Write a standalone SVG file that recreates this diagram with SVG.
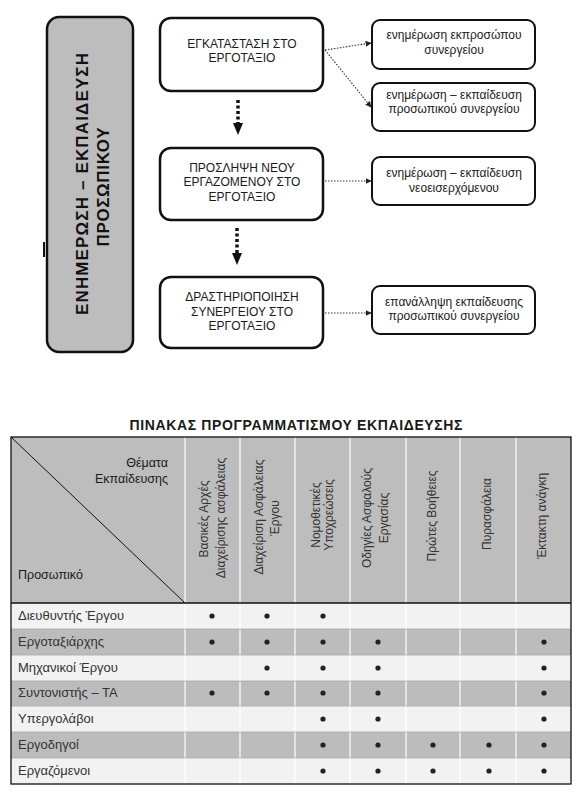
<svg xmlns="http://www.w3.org/2000/svg" width="583" height="796" viewBox="0 0 583 796">
<style>
.bg{fill:#ffffff}
.main{fill:#ffffff;stroke:#111;stroke-width:2.5}
.side{fill:#ffffff;stroke:#111;stroke-width:2}
.big{fill:#bdbdbd;stroke:#111;stroke-width:2.5}
.t{font-family:"Liberation Sans",Arial,sans-serif;fill:#1a1a1a}
.cap{font-size:12px;text-anchor:middle}
.sm{font-size:12px;text-anchor:middle}
.bold{font-weight:bold}
.vt{font-size:17px;font-weight:bold;text-anchor:middle;fill:#111}
.hd{font-size:12px;fill:#333;text-anchor:middle}
.row{font-size:13px;fill:#333}
.thin{fill:none;stroke:#333;stroke-width:1.1;stroke-dasharray:1.5 1.5}
.thick{fill:none;stroke:#111;stroke-width:3.5;stroke-dasharray:3 2.5}
.dot{fill:#222}
</style>
<defs>
<marker id="ah" viewBox="0 0 10 10" refX="9" refY="5" markerWidth="6" markerHeight="6" markerUnits="userSpaceOnUse" orient="auto"><path d="M0,0 L10,5 L0,10 z" fill="#222"/></marker>
</defs>
<rect class="bg" x="0" y="0" width="583" height="796"/>

<g id="node-main-title">
<rect class="big" x="47" y="17" width="86" height="335" rx="12"/>
<text class="t vt" transform="translate(88,184) rotate(-90)" textLength="262" lengthAdjust="spacing">ΕΝΗΜΕΡΩΣΗ – ΕΚΠΑΙΔΕΥΣΗ</text>
<text class="t vt" transform="translate(109,187) rotate(-90)" textLength="119" lengthAdjust="spacing">ΠΡΟΣΩΠΙΚΟΥ</text>
</g>
<g id="mark"><line x1="44" y1="242" x2="44" y2="257" stroke="#111" stroke-width="2"/></g>

<g id="node-install">
<rect class="main" x="160" y="18" width="163" height="73" rx="11"/>
<text class="t cap" x="242" y="48">ΕΓΚΑΤΑΣΤΑΣΗ ΣΤΟ</text>
<text class="t cap" x="242" y="62">ΕΡΓΟΤΑΞΙΟ</text>
</g>
<g id="node-hire">
<rect class="main" x="160" y="148" width="163" height="72" rx="11"/>
<text class="t cap" x="242" y="172">ΠΡΟΣΛΗΨΗ ΝΕΟΥ</text>
<text class="t cap" x="242" y="186">ΕΡΓΑΖΟΜΕΝΟΥ ΣΤΟ</text>
<text class="t cap" x="242" y="201">ΕΡΓΟΤΑΞΙΟ</text>
</g>
<g id="node-activate">
<rect class="main" x="160" y="277" width="163" height="71" rx="11"/>
<text class="t cap" x="242" y="301">ΔΡΑΣΤΗΡΙΟΠΟΙΗΣΗ</text>
<text class="t cap" x="242" y="316">ΣΥΝΕΡΓΕΙΟΥ ΣΤΟ</text>
<text class="t cap" x="242" y="330">ΕΡΓΟΤΑΞΙΟ</text>
</g>

<g id="node-a">
<rect class="side" x="372" y="20" width="163" height="49" rx="8"/>
<text class="t sm" x="454" y="39">ενημέρωση εκπροσώπου</text>
<text class="t sm" x="454" y="54">συνεργείου</text>
</g>
<g id="node-b">
<rect class="side" x="372" y="83" width="163" height="48" rx="8"/>
<text class="t sm" x="454" y="99">ενημέρωση – εκπαίδευση</text>
<text class="t sm" x="454" y="113">προσωπικού συνεργείου</text>
</g>
<g id="node-c">
<rect class="side" x="372" y="157" width="163" height="48" rx="8"/>
<text class="t sm" x="454" y="177">ενημέρωση – εκπαίδευση</text>
<text class="t sm" x="454" y="192">νεοεισερχόμενου</text>
</g>
<g id="node-d">
<rect class="side" x="372" y="286" width="163" height="48" rx="8"/>
<text class="t sm" x="454" y="306">επανάλληψη εκπαίδευσης</text>
<text class="t sm" x="454" y="320">προσωπικού συνεργείου</text>
</g>

<g id="connectors">
<line class="thin" x1="325" y1="50" x2="371" y2="43" marker-end="url(#ah)"/>
<line class="thin" x1="325" y1="50" x2="371" y2="107" marker-end="url(#ah)"/>
<line class="thin" x1="325" y1="181" x2="371" y2="181" marker-end="url(#ah)"/>
<line class="thin" x1="325" y1="313" x2="371" y2="313" marker-end="url(#ah)"/>
<line class="thick" x1="238" y1="100" x2="238" y2="123"/>
<polygon points="233,123 243,123 238,135" fill="#111"/>
<line class="thick" x1="237" y1="228" x2="237" y2="253"/>
<polygon points="232,253 242,253 237,265" fill="#111"/>
</g>

<g id="table">
<text class="t bold" font-size="14" x="296" y="430" text-anchor="middle" textLength="333" lengthAdjust="spacing">ΠΙΝΑΚΑΣ ΠΡΟΓΡΑΜΜΑΤΙΣΜΟΥ ΕΚΠΑΙΔΕΥΣΗΣ</text>
<rect x="11" y="437" width="560" height="166" fill="#bdbdbd"/>
<rect x="11" y="603" width="560" height="26" fill="#f2f2f2"/>
<rect x="11" y="629" width="560" height="26" fill="#bcbcbc"/>
<rect x="11" y="655" width="560" height="26" fill="#f2f2f2"/>
<rect x="11" y="681" width="560" height="25" fill="#bcbcbc"/>
<rect x="11" y="706" width="560" height="26" fill="#f2f2f2"/>
<rect x="11" y="732" width="560" height="26" fill="#bcbcbc"/>
<rect x="11" y="758" width="560" height="26" fill="#f2f2f2"/>
<g stroke="#ffffff" stroke-width="1.2">
<line x1="185" y1="437" x2="185" y2="784"/>
<line x1="240" y1="437" x2="240" y2="784"/>
<line x1="295" y1="437" x2="295" y2="784"/>
<line x1="350" y1="437" x2="350" y2="784"/>
<line x1="406" y1="437" x2="406" y2="784"/>
<line x1="460" y1="437" x2="460" y2="784"/>
<line x1="516" y1="437" x2="516" y2="784"/>
</g>
<g stroke="#a8a8a8" stroke-width="0.8">
<line x1="11" y1="629" x2="571" y2="629"/>
<line x1="11" y1="655" x2="571" y2="655"/>
<line x1="11" y1="681" x2="571" y2="681"/>
<line x1="11" y1="706" x2="571" y2="706"/>
<line x1="11" y1="732" x2="571" y2="732"/>
<line x1="11" y1="758" x2="571" y2="758"/>
</g>
<line x1="11" y1="437" x2="185" y2="603" stroke="#111" stroke-width="1"/>
<line x1="11" y1="603" x2="571" y2="603" stroke="#111" stroke-width="1.3"/>
<rect x="11" y="437" width="560" height="347" fill="none" stroke="#111" stroke-width="1.3"/>

<text class="t" font-size="12.5" fill="#333" x="168" y="467" text-anchor="end">Θέματα</text>
<text class="t" font-size="12.5" fill="#333" x="168" y="483" text-anchor="end">Εκπαίδευσης</text>
<text class="t" font-size="12.5" fill="#333" x="18" y="579">Προσωπικό</text>

<text class="t hd" transform="translate(208,519) rotate(-90)">Βασικές Αρχές</text>
<text class="t hd" transform="translate(225,518) rotate(-90)">Διαχείρισης ασφάλειας</text>
<text class="t hd" transform="translate(263,517) rotate(-90)">Διαχείριση Ασφάλειας</text>
<text class="t hd" transform="translate(279,518) rotate(-90)">Έργου</text>
<text class="t hd" transform="translate(320,515) rotate(-90)">Νομοθετικές</text>
<text class="t hd" transform="translate(333,515) rotate(-90)">Υποχρεώσεις</text>
<text class="t hd" transform="translate(371,518) rotate(-90)">Οδηγίες Ασφαλούς</text>
<text class="t hd" transform="translate(388,518) rotate(-90)">Εργασίας</text>
<text class="t hd" transform="translate(436,516) rotate(-90)">Πρώτες Βοήθειες</text>
<text class="t hd" transform="translate(491,514) rotate(-90)">Πυρασφάλεια</text>
<text class="t hd" transform="translate(546,516) rotate(-90)">Έκτακτη ανάγκη</text>

<text class="t row" x="18" y="620">Διευθυντής  Έργου</text>
<text class="t row" x="18" y="646">Εργοταξιάρχης</text>
<text class="t row" x="18" y="672">Μηχανικοί  Έργου</text>
<text class="t row" x="18" y="697">Συντονιστής – ΤΑ</text>
<text class="t row" x="18" y="723">Υπεργολάβοι</text>
<text class="t row" x="18" y="749">Εργοδηγοί</text>
<text class="t row" x="18" y="775">Εργαζόμενοι</text>

<g class="dot">
<circle cx="212" cy="616" r="2.6"/><circle cx="267" cy="616" r="2.6"/><circle cx="323" cy="616" r="2.6"/>
<circle cx="212" cy="642" r="2.6"/><circle cx="267" cy="642" r="2.6"/><circle cx="323" cy="642" r="2.6"/><circle cx="378" cy="642" r="2.6"/><circle cx="544" cy="642" r="2.6"/>
<circle cx="267" cy="668" r="2.6"/><circle cx="323" cy="668" r="2.6"/><circle cx="378" cy="668" r="2.6"/><circle cx="544" cy="668" r="2.6"/>
<circle cx="212" cy="693" r="2.6"/><circle cx="267" cy="693" r="2.6"/><circle cx="323" cy="693" r="2.6"/><circle cx="378" cy="693" r="2.6"/><circle cx="544" cy="693" r="2.6"/>
<circle cx="323" cy="719" r="2.6"/><circle cx="378" cy="719" r="2.6"/><circle cx="544" cy="719" r="2.6"/>
<circle cx="323" cy="745" r="2.6"/><circle cx="378" cy="745" r="2.6"/><circle cx="433" cy="745" r="2.6"/><circle cx="489" cy="745" r="2.6"/><circle cx="544" cy="745" r="2.6"/>
<circle cx="323" cy="771" r="2.6"/><circle cx="378" cy="771" r="2.6"/><circle cx="433" cy="771" r="2.6"/><circle cx="489" cy="771" r="2.6"/><circle cx="544" cy="771" r="2.6"/>
</g>
</g>
</svg>
